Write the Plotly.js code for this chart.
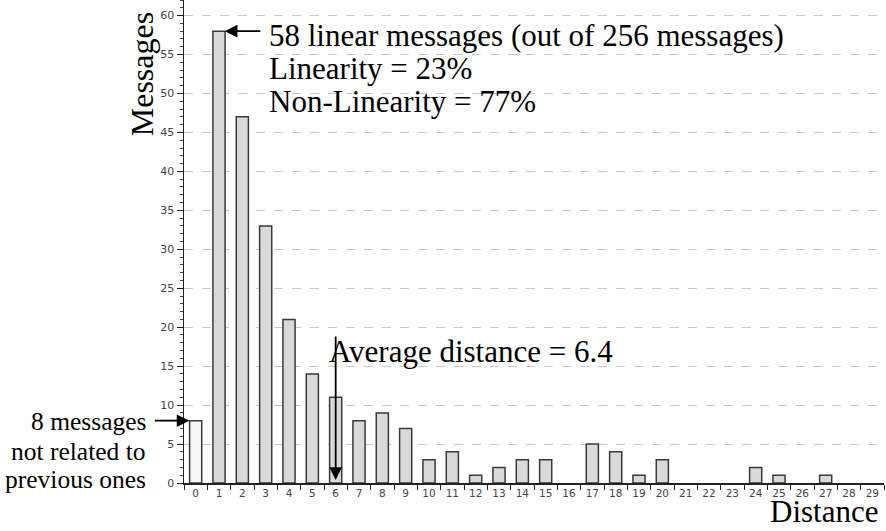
<!DOCTYPE html>
<html>
<head>
<meta charset="utf-8">
<script src="https://cdn.plot.ly/plotly-3.0.1.min.js"></script>
<style>html,body{margin:0;padding:0;background:#fff;}#chart{width:886px;height:531px;}</style>
</head>
<body>
<div id="chart"></div>
<script>
var distances = ['0','1','2','3','4','5','6','7','8','9','10','11','12','13','14','15','16','17','18','19','20','21','22','23','24','25','26','27','28','29'];
var messages = [8,58,47,33,21,14,11,8,9,7,3,4,1,2,3,3,0,5,4,1,3,0,0,0,2,1,0,1,0,0];
var barColors = messages.map(function(v,i){ return i === 0 ? '#f6f6f6' : '#d9d9d9'; });
var barLineWidths = messages.map(function(v){ return v === 0 ? 0 : 1.5; });
var averageDistance = 6.4;
var linearCount = messages[1];
var unrelatedCount = messages[0];
var topLines = [linearCount + ' linear messages (out of 256 messages)', 'Linearity = 23%', 'Non-Linearity = 77%'];
var leftLines = [unrelatedCount + ' messages', 'not related to', 'previous ones'];

var serif = 'Liberation Serif, Times New Roman, serif';

var trace = {
  type: 'bar',
  x: distances,
  y: messages,
  marker: {color: barColors, line: {color: '#3a3a3a', width: barLineWidths}},
  hoverinfo: 'x+y'
};

var annotations = [
  {xref: 'paper', yref: 'paper', x: -0.0605, y: 0.8455, text: 'Messages', textangle: -90,
   showarrow: false, font: {family: serif, size: 32, color: '#000'}, xanchor: 'center', yanchor: 'middle'},
  {xref: 'paper', yref: 'paper', x: 0.994, y: -0.1, text: 'Distance',
   showarrow: false, font: {family: serif, size: 31, color: '#000'}, xanchor: 'right', yanchor: 'bottom'},
  {xref: 'x', yref: 'y', x: 1.25, y: linearCount, ax: 37, ay: 0, text: '',
   showarrow: true, arrowhead: 2, arrowsize: 1.4, arrowwidth: 1.8, arrowcolor: '#000'},
  {xref: 'paper', yref: 'paper', x: 0.204, y: 0.2725, text: 'Average distance = ' + averageDistance,
   showarrow: false, font: {family: serif, size: 31, color: '#000'}, xanchor: 'left', yanchor: 'middle'},
  {xref: 'x', yref: 'y', x: 6, y: 0.4, ax: 0, ay: -145, text: '',
   showarrow: true, arrowhead: 2, arrowsize: 1.4, arrowwidth: 1.8, arrowcolor: '#000'},
  {xref: 'x', yref: 'y', x: -0.27, y: unrelatedCount, ax: -36, ay: 0, text: '',
   showarrow: true, arrowhead: 2, arrowsize: 1.4, arrowwidth: 1.8, arrowcolor: '#000'}
];
var topYs = [0.927, 0.858, 0.789];
topLines.forEach(function(t, i){
  annotations.push({xref: 'paper', yref: 'paper', x: 0.119, y: topYs[i], text: t, align: 'left',
    showarrow: false, font: {family: serif, size: 31, color: '#000'}, xanchor: 'left', yanchor: 'middle'});
});
var leftYs = [0.127, 0.066, 0.008];
leftLines.forEach(function(t, i){
  annotations.push({xref: 'paper', yref: 'paper', x: -0.051, y: leftYs[i], text: t, align: 'right',
    showarrow: false, font: {family: serif, size: 25.5, color: '#000'}, xanchor: 'right', yanchor: 'middle'});
});

var layout = {
  width: 886, height: 531,
  margin: {l: 184, r: 2, t: 0, b: 48},
  paper_bgcolor: '#fff', plot_bgcolor: '#fff',
  showlegend: false,
  bargap: 0.48,
  xaxis: {
    type: 'category',
    range: [-0.5, 29.5],
    showgrid: false,
    showline: true, linecolor: '#222', linewidth: 1.5,
    ticks: 'outside', ticklen: 5, tickcolor: '#222', tickwidth: 1,
    tickson: 'boundaries',
    tickfont: {family: 'DejaVu Sans, Verdana, sans-serif', size: 10.5, color: '#444'},
    zeroline: false
  },
  yaxis: {
    range: [0, 62],
    dtick: 5, tick0: 0,
    showgrid: true, gridcolor: '#c8c8c8', griddash: 'dash', gridwidth: 1,
    showline: true, linecolor: '#222', linewidth: 1.5,
    ticks: 'outside', ticklen: 6, tickcolor: '#222',
    minor: {dtick: 1, ticks: 'outside', ticklen: 3, tickcolor: '#444', showgrid: false},
    tickfont: {family: 'DejaVu Sans, Verdana, sans-serif', size: 11, color: '#444'},
    zeroline: false
  },
  annotations: annotations
};

Plotly.newPlot('chart', [trace], layout, {displayModeBar: false, staticPlot: true});
</script>
</body>
</html>
